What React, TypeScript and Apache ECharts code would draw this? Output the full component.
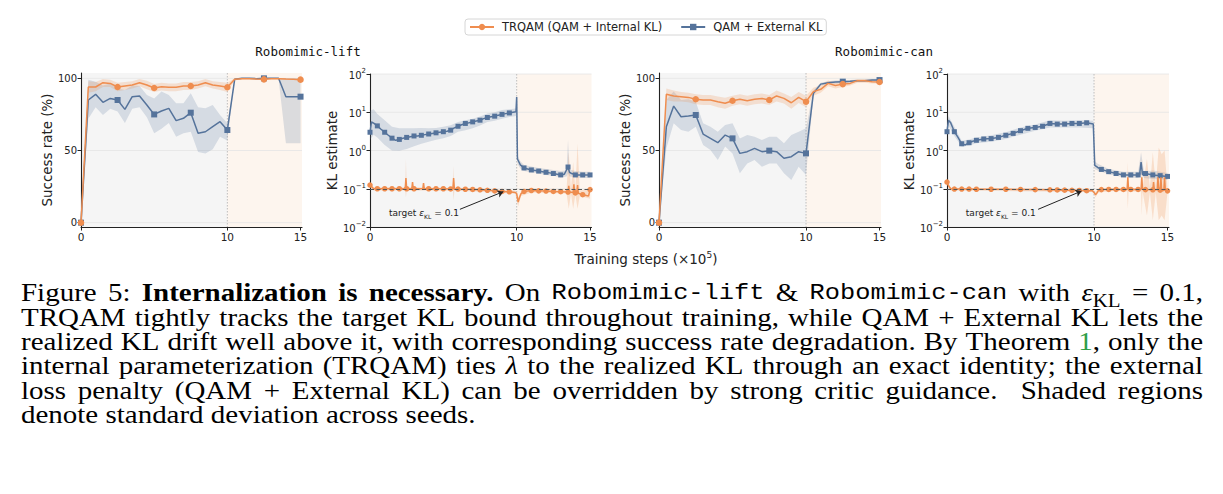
import { useEffect, useRef } from 'react';
import * as echarts from 'echarts';

// ---------- series names & colours ----------
const NAME_INT = 'TRQAM (QAM + Internal KL)';
const NAME_EXT = 'QAM + External KL';
const ORANGE = '#ef8d4f';
const BLUE = '#55739b';
const ORANGE_BAND = 'rgba(239,141,79,0.22)';
const BLUE_BAND = 'rgba(85,115,155,0.2)';
const BG_GREY = '#f5f5f5';
const BG_PEACH = '#fdf5ee';
const GRID_COLOR = '#e4e4e4';
const INK = '#222';

// ---------- axes ----------
const X_MAX = 15.1;
const X_TICKS = [0, 10, 15];
const SUCCESS_TICKS = [0, 50, 100];
const SUCCESS_MIN = -3;
const SUCCESS_MAX = 103.7;
const KL_TICKS = [0.01, 0.1, 1, 10, 100];
const KL_MIN = 0.01;
const KL_MAX = 100;
const KL_TARGET = 0.1;

// ---------- success rate (evaluation every 0.5 x 10^5 steps) ----------
const STEPS = [0, 0.5, 1, 1.5, 2, 2.5, 3, 3.5, 4, 4.5, 5, 5.5, 6, 6.5, 7, 7.5, 8, 8.5, 9, 9.5, 10, 10.5, 11, 11.5, 12, 12.5, 13, 13.5, 14, 14.5, 15];

const LIFT_INT = [0, 94, 94, 97, 96.5, 94, 94.7, 95.4, 97, 95.4, 93.3, 94.2, 93.8, 93.8, 94.7, 94.7, 95.4, 97, 95.4, 94.7, 93.8, 99.3, 99.8, 99.8, 99.5, 99.3, 99.8, 99.8, 99.5, 99.3, 99.1];
const LIFT_INT_LO = [0, 90, 91, 94, 94, 91, 92, 93, 94.5, 92.5, 90.5, 91.5, 91, 91, 92, 92, 93, 94.5, 93, 92, 90.5, 98.5, 99.3, 99.3, 99, 98.8, 99.3, 99.3, 99, 98.8, 98.6];
const LIFT_INT_HI = [0, 98, 97.5, 99.5, 99, 97, 97.5, 98, 99.5, 98.3, 96, 97, 96.5, 96.5, 97.5, 97.5, 98, 99.5, 98, 97.5, 97, 100, 100, 100, 100, 99.8, 100, 100, 100, 99.8, 99.6];

const LIFT_EXT = [0, 85, 88.9, 83.4, 86.1, 85, 78.5, 87.3, 87.8, 81.5, 75, 77.4, 79.2, 70.7, 72.3, 76.2, 61.9, 63, 66.5, 70, 64.2, 99.3, 100, 100, 99.8, 100, 100, 100, 87.3, 87.3, 87.3];
const LIFT_EXT_LO = [0, 72, 80, 74.6, 79, 77, 69, 79, 80, 73, 62, 65, 69, 59.6, 62, 63, 49, 48, 50.8, 59.6, 57, 99, 99.5, 99.5, 99.3, 99.5, 99.5, 99.5, 55, 55, 55];
const LIFT_EXT_HI = [0, 99, 97.7, 95, 96.5, 93, 92, 95, 94.7, 88.5, 86, 90.8, 88.5, 82.7, 82.7, 89.6, 80, 79.2, 81.5, 74.6, 68.8, 99.8, 100, 100, 100, 100, 100, 100, 100, 100, 100];

const CAN_INT = [0, 89, 87.8, 87.3, 86.8, 85.5, 85, 85, 83.8, 82.7, 84.5, 85.5, 84.5, 85.5, 86.1, 85, 87.8, 86.1, 83.1, 86.8, 83.8, 90.8, 92.4, 96.5, 95, 96, 96.5, 98.4, 98.4, 97.7, 97.5];
const CAN_INT_LO = [0, 85, 84, 84, 83.5, 82, 81.5, 81.5, 80, 79, 81, 82, 81, 82, 82.5, 81.5, 84, 82.5, 79, 83, 80, 88, 90, 94.5, 93, 94, 95, 97, 97, 96.5, 96.5];
const CAN_INT_HI = [0, 93, 91.5, 90.5, 90, 89, 88.5, 88.5, 87.5, 86.5, 88, 89, 88, 89, 89.5, 88.5, 91.5, 89.5, 87, 90.5, 88, 93.5, 95, 98.5, 97, 98, 98, 99.5, 99.5, 99, 98.5];

const CAN_EXT = [0, 66.5, 80.8, 73.4, 73.9, 74.6, 61.4, 58.4, 55.4, 60.7, 58.4, 48, 49.2, 51.5, 49.2, 49.9, 49.2, 44.6, 45.7, 49.2, 48, 89.6, 96, 97, 97.5, 97.7, 97.9, 98.4, 98.4, 98.8, 98.8];
const CAN_EXT_LO = [0, 51.5, 68.8, 64.2, 63, 66.5, 53.8, 50.3, 43.4, 52.7, 48, 34.2, 41, 43.4, 38.8, 41, 41, 34.2, 29.6, 38.8, 33, 87.8, 95, 96, 96.5, 96.8, 97, 97.5, 97.5, 98, 98];
const CAN_EXT_HI = [0, 85, 90.8, 85, 85.5, 83.8, 68.8, 66.5, 63, 67.7, 68.8, 58.4, 60.7, 59.6, 57.3, 59.6, 59.6, 55, 60.7, 63, 65.4, 91.5, 97, 98, 98.5, 98.6, 98.8, 99.2, 99.2, 99.5, 99.5];

// ---------- KL estimates ([step, KL]) ----------
const KL_LIFT_EXT: [number, number][] = [
  [0, 3.0], [0.1, 5.6], [0.25, 5.2], [0.5, 4.4], [0.75, 3.6], [1, 3.0], [1.25, 2.5], [1.5, 2.1], [1.75, 1.85], [2, 1.95],
  [2.25, 2.1], [2.5, 2.2], [2.75, 2.3], [3, 2.4], [3.25, 2.4], [3.5, 2.5], [3.75, 2.6], [4, 2.7], [4.25, 2.8], [4.5, 2.9],
  [4.75, 3.0], [5, 3.1], [5.25, 3.2], [5.5, 3.4], [5.75, 3.9], [6, 4.3], [6.25, 4.7], [6.5, 5.1], [6.75, 5.3], [7, 5.6],
  [7.25, 5.9], [7.5, 6.2], [7.75, 6.8], [8, 7.3], [8.25, 7.6], [8.5, 7.9], [8.75, 8.4], [9, 8.8], [9.25, 9.2], [9.5, 9.6],
  [9.75, 10], [9.95, 10.3], [10, 25], [10.05, 0.6], [10.25, 0.42], [10.5, 0.35], [10.75, 0.33], [11, 0.31], [11.25, 0.3],
  [11.5, 0.29], [11.75, 0.28], [12, 0.27], [12.25, 0.26], [12.5, 0.25], [12.75, 0.24], [13, 0.23], [13.25, 0.24], [13.5, 0.37],
  [13.6, 0.27], [13.75, 0.25], [14, 0.23], [14.25, 0.23], [14.5, 0.23], [14.75, 0.23], [15, 0.23],
];
const KL_LIFT_EXT_BAND_X = [0, 0.25, 0.5, 1, 1.5, 2, 2.5, 3, 3.5, 4, 4.5, 5, 5.5, 6, 6.5, 7, 7.5, 8, 8.5, 9, 9.5, 9.95, 10.05, 10.25, 10.5, 11, 11.5, 12, 12.5, 13, 13.4, 13.5, 13.6, 14, 14.5, 15];
const KL_LIFT_EXT_BAND_LO = [1.9, 2.6, 2.2, 1.4, 1.0, 0.98, 1.1, 1.3, 1.5, 1.7, 1.9, 2.1, 2.4, 3.1, 3.4, 3.8, 4.5, 5.6, 6.0, 6.8, 7.5, 8.0, 0.45, 0.34, 0.29, 0.27, 0.25, 0.23, 0.22, 0.2, 0.21, 0.25, 0.21, 0.2, 0.19, 0.19];
const KL_LIFT_EXT_BAND_HI = [11, 12, 9, 6.2, 4.2, 3.8, 3.8, 3.8, 3.9, 3.8, 3.9, 4.2, 4.6, 5.6, 6.2, 6.8, 7.8, 9.3, 10, 11.5, 12, 12.5, 0.75, 0.52, 0.42, 0.38, 0.35, 0.33, 0.31, 0.29, 0.3, 1.9, 0.32, 0.29, 0.28, 0.28];

const KL_LIFT_INT: [number, number][] = [
  [0, 0.125], [0.25, 0.1], [0.5, 0.1], [1, 0.1], [1.5, 0.1], [2, 0.1], [2.4, 0.1], [2.45, 0.19], [2.5, 0.1], [2.85, 0.1],
  [2.9, 0.15], [2.95, 0.1], [3, 0.1], [3.6, 0.1], [3.65, 0.14], [3.7, 0.1], [4, 0.1], [4.5, 0.1], [5, 0.1], [5.5, 0.099],
  [5.65, 0.099], [5.7, 0.19], [5.75, 0.099], [6, 0.098], [6.5, 0.097], [7, 0.096], [7.5, 0.094], [8, 0.091], [8.5, 0.088],
  [9, 0.085], [9.5, 0.083], [9.9, 0.08], [10, 0.075], [10.1, 0.045], [10.2, 0.06], [10.3, 0.075], [10.5, 0.085], [11, 0.09],
  [11.5, 0.088], [12, 0.087], [12.5, 0.085], [13, 0.084], [13.5, 0.082], [13.55, 0.12], [13.6, 0.082], [13.85, 0.08],
  [13.9, 0.13], [13.95, 0.08], [14, 0.078], [14.1, 0.078], [14.15, 0.125], [14.2, 0.076], [14.5, 0.07], [14.9, 0.065], [15, 0.095],
];
const KL_LIFT_INT_BAND_X = [0, 0.25, 2.4, 2.45, 2.5, 5.65, 5.7, 5.75, 8, 9.9, 10.1, 10.3, 11, 13.4, 13.55, 13.7, 13.85, 14.0, 14.15, 14.3, 15];
const KL_LIFT_INT_BAND_LO = [0.11, 0.09, 0.09, 0.06, 0.09, 0.088, 0.05, 0.088, 0.082, 0.074, 0.035, 0.065, 0.08, 0.075, 0.03, 0.075, 0.03, 0.07, 0.03, 0.065, 0.055];
const KL_LIFT_INT_BAND_HI = [0.14, 0.11, 0.11, 0.6, 0.11, 0.107, 0.4, 0.107, 0.1, 0.09, 0.06, 0.085, 0.1, 0.097, 0.9, 0.097, 0.5, 0.095, 1.5, 0.09, 0.1];

const KL_CAN_EXT: [number, number][] = [
  [0, 3.1], [0.1, 6.2], [0.25, 5.3], [0.5, 3.1], [0.75, 2.2], [1, 1.5], [1.25, 1.4], [1.5, 1.6], [1.75, 1.75], [2, 1.85],
  [2.5, 2.0], [3, 2.05], [3.5, 2.2], [4, 2.5], [4.5, 2.8], [5, 3.3], [5.5, 3.8], [6, 4.0], [6.5, 4.3], [7, 5.1], [7.5, 4.9],
  [8, 4.9], [8.5, 5.1], [9, 5.1], [9.5, 5.3], [9.95, 4.9], [10.05, 0.41], [10.25, 0.36], [10.5, 0.32], [11, 0.28], [11.5, 0.25],
  [12, 0.23], [12.5, 0.23], [13, 0.23], [13.1, 0.23], [13.2, 0.5], [13.3, 0.23], [13.5, 0.25], [14, 0.23], [14.5, 0.22], [15, 0.21],
];
const KL_CAN_EXT_BAND_X = [0, 0.1, 0.5, 1, 1.5, 2, 3, 4, 5, 6, 7, 8, 9, 9.95, 10.05, 10.25, 11, 12, 13, 13.2, 13.4, 14, 15];
const KL_CAN_EXT_BAND_LO = [2.3, 4.5, 2.4, 1.25, 1.35, 1.55, 1.7, 2.0, 2.6, 3.3, 4.0, 4.0, 4.0, 3.8, 0.33, 0.3, 0.24, 0.2, 0.19, 0.25, 0.19, 0.18, 0.17];
const KL_CAN_EXT_BAND_HI = [4.5, 8.0, 4.2, 1.8, 1.95, 2.2, 2.5, 3.0, 4.0, 4.8, 6.2, 6.0, 6.2, 6.0, 0.52, 0.45, 0.33, 0.28, 0.28, 0.9, 0.28, 0.3, 0.26];

const KL_CAN_INT: [number, number][] = [
  [0, 0.15], [0.1, 0.12], [0.25, 0.1], [0.5, 0.098], [1, 0.098], [1.5, 0.098], [2, 0.097], [3, 0.097], [4, 0.097], [5, 0.096],
  [6, 0.095], [7, 0.094], [7.5, 0.093], [8, 0.092], [8.5, 0.091], [9, 0.09], [9.5, 0.089], [9.9, 0.088], [10, 0.08], [10.1, 0.07],
  [10.2, 0.078], [10.3, 0.09], [10.5, 0.095], [11, 0.096], [11.5, 0.096], [12, 0.096], [12.25, 0.096], [12.3, 0.2], [12.35, 0.096],
  [12.5, 0.096], [13, 0.096], [13.2, 0.096], [13.25, 0.2], [13.3, 0.096], [13.5, 0.095], [14, 0.094], [14.05, 0.15], [14.1, 0.094],
  [14.3, 0.094], [14.35, 0.2], [14.4, 0.094], [14.5, 0.092], [14.55, 0.2], [14.6, 0.09], [14.75, 0.09], [14.8, 0.2], [14.85, 0.09], [15, 0.088],
];
const KL_CAN_INT_BAND_X = [0, 0.25, 9.9, 10.1, 10.3, 11.5, 12.25, 12.3, 12.35, 13.2, 13.25, 13.3, 13.6, 13.8, 14.0, 14.2, 14.4, 14.6, 14.8, 15];
const KL_CAN_INT_BAND_LO = [0.13, 0.09, 0.082, 0.06, 0.08, 0.088, 0.085, 0.03, 0.085, 0.085, 0.02, 0.085, 0.02, 0.08, 0.015, 0.08, 0.015, 0.02, 0.015, 0.08];
const KL_CAN_INT_BAND_HI = [0.17, 0.107, 0.094, 0.082, 0.1, 0.105, 0.105, 0.5, 0.105, 0.105, 0.6, 0.105, 0.6, 0.11, 0.9, 0.12, 1.2, 0.8, 1.0, 0.1];

// annotation: label centre and arrow (tail -> head) in data coordinates
const TARGET_LABEL_LIFT: [number, number] = [3.68, 0.0236];
const TARGET_ARROW_LIFT: [number, number][] = [[6.13, 0.029], [9.09, 0.084]];
const TARGET_LABEL_CAN: [number, number] = [3.66, 0.0236];
const TARGET_ARROW_CAN: [number, number][] = [[6.2, 0.029], [9.15, 0.087]];

// ---------- caption ----------
// words are separated by spaces; "k~text" switches the run style
// (b bold, m typewriter, i italic, s subscript, g reference link), "|" joins runs in one word
const CAPTION_LINES = [
  'Figure 5: b~Internalization b~is b~necessary. On m~Robomimic-lift & m~Robomimic-can with i~ε|s~KL = 0.1,',
  'TRQAM tightly tracks the target KL bound throughout training, while QAM + External KL lets the',
  'realized KL drift well above it, with corresponding success rate degradation. By Theorem g~1|r~, only the',
  'internal parameterization (TRQAM) ties i~λ to the realized KL through an exact identity; the external',
  'loss penalty (QAM + External KL) can be overridden by strong critic guidance.  Shaded regions',
  'denote standard deviation across seeds.',
];
const CAPTION_LEFT = 21;
const CAPTION_RIGHT = 1203;
const CAPTION_BASELINE = 301;
const CAPTION_LEADING = 24.4;
const CAPTION_SQUASH = 0.9;
const MONO_SCALE = 0.875;

const pairs = (xs: number[], ys: number[]) => xs.map((x, i) => [x, ys[i]]);

type Run = { k: string; t: string };
const parseWord = (w: string): Run[] =>
  w.split('|').map((seg) => {
    const i = seg.indexOf('~');
    return i < 0 ? { k: 'r', t: seg } : { k: seg.slice(0, i), t: seg.slice(i + 1) };
  });

function runFont(k: string, F: number) {
  const family = k === 'm' ? 'Liberation Mono' : 'Liberation Serif';
  const size = k === 'm' ? F * MONO_SCALE : k === 's' ? F * 0.72 : F;
  const weight = k === 'b' ? 'bold' : 'normal';
  const style = k === 'i' ? 'italic' : 'normal';
  return { family, size, weight, style, css: `${style} ${weight} ${size}px "${family}"` };
}

function captionElements(): any[] {
  const ctx = document.createElement('canvas').getContext('2d')!;
  const lines = CAPTION_LINES.map((l) => l.split(' ').map(parseWord));
  const measureRun = (r: Run, F: number) => {
    ctx.font = runFont(r.k, F).css;
    return ctx.measureText(r.t).width;
  };
  const wordWidth = (w: Run[], F: number) => w.reduce((s, r) => s + measureRun(r, F), 0);
  const space = (F: number) => measureRun({ k: 'r', t: ' ' }, F);
  const natural = (line: Run[][], F: number) =>
    line.reduce((s, w) => s + wordWidth(w, F), 0) + (line.length - 1) * space(F);
  const W = CAPTION_RIGHT - CAPTION_LEFT;
  let F = 100;
  lines.slice(0, lines.length - 1).forEach((line) => {
    F = Math.min(F, (100 * W * 0.99) / natural(line, 100));
  });
  const s = CAPTION_SQUASH;
  const els: any[] = [];
  lines.forEach((line, li) => {
    const baseline = CAPTION_BASELINE + li * CAPTION_LEADING;
    const widths = line.map((w) => wordWidth(w, F));
    const total = widths.reduce((a, b) => a + b, 0);
    const last = li === lines.length - 1;
    const gap = last ? space(F) : (W - total) / (line.length - 1);
    let x = CAPTION_LEFT;
    line.forEach((word, wi) => {
      let rx = x;
      word.forEach((r) => {
        const f = runFont(r.k, F);
        const shift = r.k === 's' ? 0.22 * F * s : 0;
        els.push({
          type: 'text',
          x: rx,
          y: baseline + shift - 0.34 * f.size * s,
          scaleY: s,
          silent: true,
          style: {
            text: r.t,
            fontFamily: f.family,
            fontSize: f.size,
            fontWeight: f.weight,
            fontStyle: f.style,
            fill: r.k === 'g' ? '#2f9e47' : '#000',
            align: 'left',
            verticalAlign: 'middle',
            textAlign: 'left',
            textVerticalAlign: 'middle',
          },
        });
        rx += measureRun(r, F);
      });
      x += widths[wi] + gap;
    });
  });
  return els;
}

// ---------- chart builders ----------
const GRIDS = [
  { left: 81, top: 73, width: 221, height: 154 },
  { left: 370, top: 74, width: 221.5, height: 153 },
  { left: 659, top: 73, width: 222, height: 154 },
  { left: 947, top: 74, width: 222, height: 153 },
];

const tickFont = { fontFamily: 'DejaVu Sans', fontSize: 10.5, color: INK };
const nameFont = { fontFamily: 'DejaVu Sans', fontSize: 13.4, color: INK };

const xAxisFor = (gi: number) => ({
  type: 'value',
  gridIndex: gi,
  min: 0,
  max: X_MAX,
  axisLine: { show: true, onZero: false, lineStyle: { color: INK, width: 1.1 } },
  axisTick: { show: true, length: 3.5, customValues: X_TICKS, lineStyle: { color: INK, width: 1 } },
  axisLabel: { ...tickFont, margin: 4, customValues: X_TICKS },
  splitLine: { show: false },
});

const successAxis = (gi: number) => ({
  type: 'value',
  gridIndex: gi,
  min: SUCCESS_MIN,
  max: SUCCESS_MAX,
  axisLine: { show: true, onZero: false, lineStyle: { color: INK, width: 1.1 } },
  axisTick: { show: true, length: 3.5, customValues: SUCCESS_TICKS, lineStyle: { color: INK, width: 1 } },
  axisLabel: { ...tickFont, fontSize: 10, margin: 4, customValues: SUCCESS_TICKS },
  splitLine: { show: false },
  name: 'Success rate (%)',
  nameLocation: 'middle',
  nameGap: 27,
  nameTextStyle: nameFont,
});

const klAxis = (gi: number) => ({
  type: 'log',
  logBase: 10,
  gridIndex: gi,
  min: KL_MIN,
  max: KL_MAX,
  axisLine: { show: true, onZero: false, lineStyle: { color: INK, width: 1.1 } },
  axisTick: { show: true, length: 3.5, lineStyle: { color: INK, width: 1 } },
  minorTick: { show: false },
  axisLabel: {
    margin: 4,
    formatter: (v: number) => {
      const e = Math.round(Math.log10(v));
      return `{b|10}{sup|${e < 0 ? '−' + -e : e}}`;
    },
    rich: {
      b: { ...tickFont, fontSize: 10, lineHeight: 13, verticalAlign: 'bottom' },
      sup: { fontFamily: 'DejaVu Sans', fontSize: 7, color: INK, lineHeight: 13, verticalAlign: 'top' },
    },
  },
  splitLine: { show: false },
  name: 'KL estimate',
  nameLocation: 'middle',
  nameGap: 30,
  nameTextStyle: nameFont,
});

// shaded phases, grid lines and the phase boundary, drawn through the axis scales
const backdrop = (gi: number, yMin: number, yMax: number, yTicks: number[]) => ({
  type: 'custom',
  xAxisIndex: gi,
  yAxisIndex: gi,
  silent: true,
  z: -1,
  data: [[1, yTicks[1]]],
  renderItem: (_p: any, api: any) => {
    const tl = api.coord([0, yMax]);
    const b10 = api.coord([10, yMin]);
    const br = api.coord([X_MAX, yMin]);
    const children: any[] = [
      { type: 'rect', shape: { x: tl[0], y: tl[1], width: b10[0] - tl[0], height: b10[1] - tl[1] }, style: { fill: BG_GREY } },
      { type: 'rect', shape: { x: b10[0], y: tl[1], width: br[0] - b10[0], height: br[1] - tl[1] }, style: { fill: BG_PEACH } },
    ];
    yTicks.forEach((t) => {
      const a = api.coord([0, t]);
      const b = api.coord([X_MAX, t]);
      children.push({ type: 'line', shape: { x1: a[0], y1: a[1], x2: b[0], y2: b[1] }, style: { stroke: GRID_COLOR, lineWidth: 0.8 } });
    });
    children.push({
      type: 'line',
      shape: { x1: b10[0], y1: tl[1], x2: b10[0], y2: b10[1] },
      style: { stroke: '#bdbdbd', lineWidth: 1, lineDash: [1.5, 1.5] },
    });
    return { type: 'group', children };
  },
});

// standard-deviation band as a polygon through the axis scales
const band = (gi: number, xs: number[], lo: number[], hi: number[], fill: string) => ({
  type: 'custom',
  xAxisIndex: gi,
  yAxisIndex: gi,
  silent: true,
  z: 1,
  data: [[xs[0], hi[0]]],
  renderItem: (_p: any, api: any) => {
    const pts = xs.map((x, i) => api.coord([x, hi[i]]));
    for (let i = xs.length - 1; i >= 0; i--) pts.push(api.coord([xs[i], lo[i]]));
    return { type: 'polygon', shape: { points: pts }, style: { fill } };
  },
});

const isMark = (x: number, every: number, skip10: boolean) =>
  Math.abs(x / every - Math.round(x / every)) < 1e-6 && !(skip10 && x === 10);

const curve = (
  gi: number,
  name: string,
  data: any[],
  color: string,
  symbol: string,
  every: number,
  size: number,
  skip10: boolean,
  z: number,
  extra: any = {}
) => ({
  type: 'line',
  name,
  xAxisIndex: gi,
  yAxisIndex: gi,
  data,
  color,
  z,
  symbol,
  showSymbol: true,
  symbolSize: (v: number[]) => (isMark(v[0], every, skip10) ? size : 0),
  lineStyle: { width: 1.5, color },
  itemStyle: { color },
  emphasis: { disabled: true },
  silent: true,
  ...extra,
});

const targetLabel = (coord: [number, number]) => ({
  silent: true,
  symbol: 'circle',
  symbolSize: 0,
  data: [
    {
      coord,
      label: {
        show: true,
        position: 'inside',
        formatter: '{n|target }{it|ε}{sub|KL}{n| = 0.1}',
        rich: {
          n: { fontFamily: 'DejaVu Sans', fontSize: 9, color: INK, lineHeight: 13, verticalAlign: 'middle' },
          it: { fontFamily: 'DejaVu Sans', fontStyle: 'italic', fontSize: 9, color: INK, lineHeight: 13, verticalAlign: 'middle' },
          sub: { fontFamily: 'DejaVu Sans', fontSize: 6, color: INK, lineHeight: 13, verticalAlign: 'bottom' },
        },
      },
    },
  ],
});

const targetArrow = (arrow: [number, number][]) => ({
  silent: true,
  symbol: ['none', 'arrow'],
  symbolSize: 6,
  label: { show: false },
  lineStyle: { color: INK, width: 1, type: 'solid' },
  data: [[{ coord: arrow[0] }, { coord: arrow[1] }]],
});

const targetLine = () => ({
  silent: true,
  symbol: ['none', 'none'],
  label: { show: false },
  lineStyle: { color: '#555', width: 1.2, type: [4, 2.5] },
  data: [{ yAxis: KL_TARGET }],
});

function buildOption(): any {
  const series: any[] = [
    // Robomimic-lift: success rate
    backdrop(0, SUCCESS_MIN, SUCCESS_MAX, SUCCESS_TICKS),
    band(0, STEPS, LIFT_EXT_LO, LIFT_EXT_HI, BLUE_BAND),
    band(0, STEPS, LIFT_INT_LO, LIFT_INT_HI, ORANGE_BAND),
    curve(0, NAME_INT, pairs(STEPS, LIFT_INT), ORANGE, 'circle', 2.5, 6.5, false, 4),
    curve(0, NAME_EXT, pairs(STEPS, LIFT_EXT), BLUE, 'rect', 2.5, 6, false, 3),
    // Robomimic-lift: KL
    backdrop(1, KL_MIN, KL_MAX, KL_TICKS),
    band(1, KL_LIFT_EXT_BAND_X, KL_LIFT_EXT_BAND_LO, KL_LIFT_EXT_BAND_HI, BLUE_BAND),
    band(1, KL_LIFT_INT_BAND_X, KL_LIFT_INT_BAND_LO, KL_LIFT_INT_BAND_HI, ORANGE_BAND),
    curve(1, NAME_EXT, KL_LIFT_EXT, BLUE, 'rect', 0.5, 5, true, 3, { markLine: targetLine() }),
    curve(1, NAME_INT, KL_LIFT_INT, ORANGE, 'circle', 0.5, 5.5, true, 4, {
      markLine: targetArrow(TARGET_ARROW_LIFT),
      markPoint: targetLabel(TARGET_LABEL_LIFT),
    }),
    // Robomimic-can: success rate
    backdrop(2, SUCCESS_MIN, SUCCESS_MAX, SUCCESS_TICKS),
    band(2, STEPS, CAN_EXT_LO, CAN_EXT_HI, BLUE_BAND),
    band(2, STEPS, CAN_INT_LO, CAN_INT_HI, ORANGE_BAND),
    curve(2, NAME_EXT, pairs(STEPS, CAN_EXT), BLUE, 'rect', 2.5, 6, false, 3),
    curve(2, NAME_INT, pairs(STEPS, CAN_INT), ORANGE, 'circle', 2.5, 6.5, false, 4),
    // Robomimic-can: KL
    backdrop(3, KL_MIN, KL_MAX, KL_TICKS),
    band(3, KL_CAN_EXT_BAND_X, KL_CAN_EXT_BAND_LO, KL_CAN_EXT_BAND_HI, BLUE_BAND),
    band(3, KL_CAN_INT_BAND_X, KL_CAN_INT_BAND_LO, KL_CAN_INT_BAND_HI, ORANGE_BAND),
    curve(3, NAME_EXT, KL_CAN_EXT, BLUE, 'rect', 0.5, 5, true, 3, { markLine: targetLine() }),
    curve(3, NAME_INT, KL_CAN_INT, ORANGE, 'circle', 0.5, 5.5, true, 4, {
      markLine: targetArrow(TARGET_ARROW_CAN),
      markPoint: targetLabel(TARGET_LABEL_CAN),
    }),
  ];

  const headings = [
    { text: 'Robomimic-lift', x: 308 },
    { text: 'Robomimic-can', x: 884 },
  ].map((h) => ({
    type: 'text',
    x: h.x,
    y: 51,
    silent: true,
    style: {
      text: h.text,
      fontFamily: 'DejaVu Sans Mono',
      fontSize: 12.5,
      fill: '#111',
      align: 'center',
      verticalAlign: 'middle',
      textAlign: 'center',
      textVerticalAlign: 'middle',
    },
  }));

  const xName = {
    type: 'text',
    x: 646,
    y: 259,
    silent: true,
    style: {
      text: '{a|Training steps (×10}{s|5}{a|)}',
      rich: {
        a: { fontFamily: 'DejaVu Sans', fontSize: 13.5, fill: INK, color: INK, lineHeight: 17, verticalAlign: 'middle' },
        s: { fontFamily: 'DejaVu Sans', fontSize: 9, fill: INK, color: INK, lineHeight: 17, verticalAlign: 'top' },
      },
      align: 'center',
      verticalAlign: 'middle',
      textAlign: 'center',
      textVerticalAlign: 'middle',
    },
  };

  return {
    animation: false,
    backgroundColor: '#ffffff',
    grid: GRIDS.map((g) => ({ ...g, containLabel: false })),
    xAxis: [0, 1, 2, 3].map(xAxisFor),
    yAxis: [successAxis(0), klAxis(1), successAxis(2), klAxis(3)],
    legend: {
      data: [NAME_INT, NAME_EXT],
      left: 465,
      top: 19,
      itemWidth: 24,
      itemHeight: 8,
      itemGap: 18,
      padding: [2, 4, 2, 4],
      borderColor: '#d6d6d6',
      borderWidth: 1,
      borderRadius: 3,
      selectedMode: false,
      textStyle: { fontFamily: 'DejaVu Sans', fontSize: 11.5, color: INK, padding: [0, 0, 0, 3] },
    },
    graphic: { elements: [...headings, xName, ...captionElements()] },
    series,
  };
}

export default function App() {
  const ref = useRef<HTMLDivElement>(null);
  useEffect(() => {
    if (!ref.current) return;
    const chart = echarts.init(ref.current, null, { renderer: 'svg' });
    chart.setOption(buildOption());
    return () => chart.dispose();
  }, []);
  return (
    <div
      ref={ref}
      style={{ position: 'absolute', left: 0, top: 0, width: 1223, height: 494, background: '#fff' }}
    />
  );
}
